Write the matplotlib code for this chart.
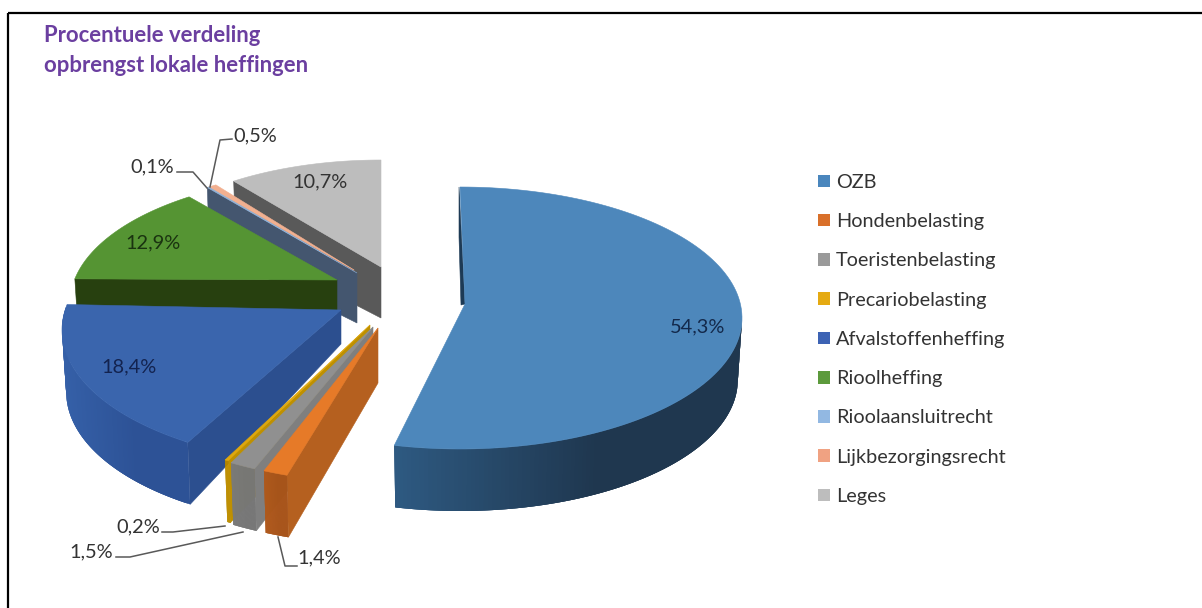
# 3D exploded pie: procentuele verdeling opbrengst lokale heffingen
import matplotlib
matplotlib.use('Agg')
import matplotlib.pyplot as plt
from matplotlib.patches import Patch, Polygon, Rectangle
import numpy as np

plt.rcParams['font.family'] = ['Lato', 'DejaVu Sans']

labels = ['OZB', 'Hondenbelasting', 'Toeristenbelasting', 'Precariobelasting',
          'Afvalstoffenheffing', 'Rioolheffing', 'Rioolaansluitrecht',
          'Lijkbezorgingsrecht', 'Leges']
values = [54.3, 1.4, 1.5, 0.2, 18.4, 12.9, 0.1, 0.5, 10.7]
legend_colors = ['#4a86bd', '#d9702a', '#9a9a9a', '#e5aa12', '#3d63b4',
                 '#5c9a3c', '#92b8e2', '#f0a282', '#bdbdbd']

# top face, side wall and rim wall (left and right end of the shading)
top_colors = ['#4d87bb', '#e67a28', '#909090', '#e0a80c', '#3a65ad',
              '#559433', '#8fb4dc', '#f2b090', '#bdbdbd']
side_colors = ['#1d3a55', '#b5601f', '#7f7f7f', '#bf9000', '#2c4f8f',
               '#27400f', '#44566f', '#c08a70', '#595959']
rim_left = ['#2e5a82', '#b0591c', '#7a7a7a', '#bf9000', '#3560a8',
            None, None, None, None]
rim_right = ['#1f374f', '#a8541a', '#777777', '#bf9000', '#2d5296',
             None, None, None, None]

# placement of each exploded slice in pixels
apex = [(465, 304), (378, 328), (373, 327), (370, 325), (341, 310),
        (337, 280), (357, 273), (354, 270), (381, 267)]
centre = [(460, 318), (381, 348), (376, 347), (373, 345), (344, 330),
          (340, 303), (357, 294), (357, 294), (381, 280)]
radii = [(282, 131), (282, 135), (282, 135), (282, 135), (282, 135),
         (270, 128), (270, 128), (270, 128), (260, 120)]
turn = [(0, -2), (4, 4), (5, 5), (5, 5), (7, 8),
        (8, 6.7), (7, 7), (7, 7), (4, 0)]
apex_depth = [0, 55, 55, 55, 34, 30, 50, 50, 51]
front_depth = 62

pct_text = ['54,3%', '1,4%', '1,5%', '0,2%', '18,4%', '12,9%', '0,1%', '0,5%', '10,7%']
pct_pos = [(698, 327), (319, 558), (91, 552), (138, 527), (129, 367),
           (153, 243), (152, 167), (255, 136), (320, 182)]
pct_color = ['#13294b', '#333333', '#333333', '#333333', '#13234f',
             '#1a3310', '#333333', '#333333', '#333333']
leaders = {1: [(278, 537), (285, 566), (297, 566)],
           2: [(116, 557), (130, 557), (243, 532)],
           3: [(162, 532), (173, 532), (225, 526)],
           6: [(177, 172), (193, 172), (207, 188)],
           7: [(232, 139), (220, 140), (210, 187)]}

fig = plt.figure(figsize=(12.02, 6.08), dpi=100)
ax = fig.add_axes([0, 0, 1, 1])
ax.set_xlim(0, 1202)
ax.set_ylim(608, 0)
ax.axis('off')

ax.add_patch(Rectangle((8, 13), 1300, 700, fc='none', ec='black', lw=1.6))

edges = np.concatenate([[0], np.cumsum(values)]) / sum(values) * 360


def rim(i, th, low=False):
    # th in degrees clockwise from 12 o'clock, turned a bit for perspective
    t0, t1 = edges[i], edges[i + 1]
    p = np.radians(th + turn[i][0] + (turn[i][1] - turn[i][0]) * (th - t0) / (t1 - t0))
    a, b = radii[i]
    if low:
        return centre[i][0] + a * 0.985 * np.sin(p), centre[i][1] - b * np.cos(p) + front_depth
    return centre[i][0] + a * np.sin(p), centre[i][1] - b * np.cos(p)


def poly(pts, color, z):
    ax.add_patch(Polygon(pts, closed=True, fc=color, ec=color, lw=0.4, zorder=z))


def mix(c1, c2, f):
    rgb1 = np.array(matplotlib.colors.to_rgb(c1))
    rgb2 = np.array(matplotlib.colors.to_rgb(c2))
    return tuple(rgb1 + (rgb2 - rgb1) * f)


# back to front
order = [8, 7, 6, 5, 4, 3, 2, 1, 0]
for z, i in enumerate(order):
    z = z * 3 + 1
    t0, t1 = edges[i], edges[i + 1]
    ax_, ay_ = apex[i]
    if i == 0:
        # only a thin dark edge shows on the big slice
        x0, y0 = rim(0, t0)
        poly([(x0 - 1, y0), (ax_, ay_), (ax_ - 4, ay_ + 1), (x0 - 1, y0 + 50)], side_colors[0], z)
    else:
        x0, y0 = rim(i, t0)
        x1, y1 = rim(i, t0, low=True)
        poly([(ax_, ay_), (x0, y0), (x1, y1), (ax_, ay_ + apex_depth[i])], side_colors[i], z)
    if rim_left[i]:
        # rim wall shaded in small steps, each step laid over the next so no seams show
        ths = np.linspace(max(t0, 90), min(t1, 272), 120)
        xs = [rim(i, t)[0] for t in ths]
        lo, hi = min(xs), max(xs)
        for k in range(len(ths) - 1):
            end = min(k + 3, len(ths) - 1)
            up = [rim(i, t) for t in ths[k:end + 1]]
            down = [rim(i, t, True) for t in ths[k:end + 1]]
            f = (xs[k] - lo) / max(hi - lo, 1)
            ax.add_patch(Polygon(up + down[::-1], closed=True, ec='none',
                                 fc=mix(rim_left[i], rim_right[i], min(f * 1.7, 1)), zorder=z + 1))
    ths = np.linspace(t0, t1, 120)
    poly([apex[i]] + [rim(i, t) for t in ths], top_colors[i], z + 2)

for i, pts in leaders.items():
    xs, ys = zip(*pts)
    ax.plot(xs, ys, color='#595959', lw=1.1, zorder=40)

for txt, pos, col in zip(pct_text, pct_pos, pct_color):
    ax.text(pos[0], pos[1], txt, fontsize=14.4, color=col, ha='center', va='center', zorder=50)

ax.text(44, 35, 'Procentuele verdeling', fontsize=15.9, fontweight='bold', color='#6b3fa0',
        ha='left', va='center')
ax.text(44, 65, 'opbrengst lokale heffingen', fontsize=15.9, fontweight='bold', color='#6b3fa0',
        ha='left', va='center')

handles = [Patch(fc=c, ec=c, lw=0) for c in legend_colors]
ax.legend(handles, labels, loc='upper left', bbox_to_anchor=(800, 156), bbox_transform=ax.transData,
          frameon=False, fontsize=14.3, labelspacing=1.121, handlelength=0.6, handleheight=0.6,
          handletextpad=0.3, labelcolor='#333333')

fig.savefig('out.png', dpi=100, facecolor='white')
